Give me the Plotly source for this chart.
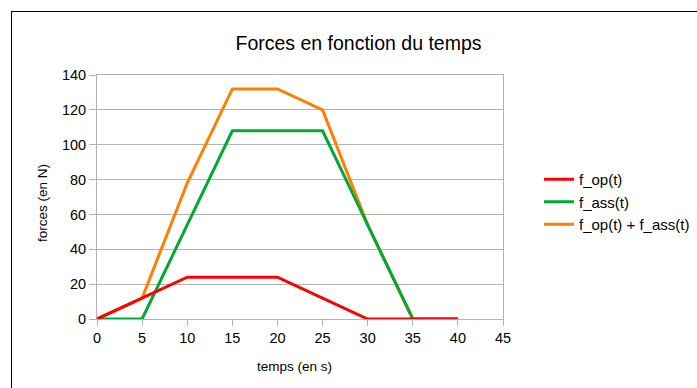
import plotly.graph_objects as go

t = [0, 5, 10, 15, 20, 25, 30, 35, 40]
f_op = [0, 12, 24, 24, 24, 12, 0, 0, 0]
f_ass = [0, 0, 54, 108, 108, 108, 54, 0, 0]
f_sum = [0, 12, 78, 132, 132, 120, 54, 0, 0]

x_ticks = [0, 5, 10, 15, 20, 25, 30, 35, 40, 45]
y_ticks = [0, 20, 40, 60, 80, 100, 120, 140]

W, H = 697, 388
L, R, T, B = 97, 503, 75, 319

FONT = "Liberation Sans, Arial, sans-serif"

fig = go.Figure()
# draw order: orange under green under red; legend order red, green, orange
fig.add_trace(go.Scatter(x=t, y=f_sum, mode="lines", name="f_op(t) + f_ass(t)",
                         line=dict(color="#ff8000", width=3), legendrank=3))
fig.add_trace(go.Scatter(x=t, y=f_ass, mode="lines", name="f_ass(t)",
                         line=dict(color="#00a933", width=3), legendrank=2))
fig.add_trace(go.Scatter(x=t, y=f_op, mode="lines", name="f_op(t)",
                         line=dict(color="#ff0000", width=3), legendrank=1))

def px_x(p):
    return (p - L) / (R - L)

def px_y(p):
    return (B - p) / (B - T)

fig.update_layout(
    width=W, height=H,
    margin=dict(l=L, r=W - R, t=T, b=H - B, pad=0, autoexpand=False),
    paper_bgcolor="white", plot_bgcolor="white",
    font=dict(family=FONT, color="black", size=14),
    title=dict(text="Forces en fonction du temps", x=358.5 / W, xanchor="center",
               y=1 - 43 / H, yanchor="middle", yref="container",
               font=dict(size=19.5, family=FONT, color="black")),
    showlegend=True,
    legend=dict(x=px_x(539), xanchor="left", y=px_y(202), yanchor="middle",
                font=dict(size=15, family=FONT, color="black"),
                bgcolor="rgba(0,0,0,0)", traceorder="normal", tracegroupgap=0),
    xaxis=dict(range=[0, 45], tickvals=x_ticks, ticktext=[str(v) for v in x_ticks],
               showgrid=False, showline=True, linecolor="#b3b3b3", linewidth=1,
               mirror=True, ticks="outside", ticklen=6, tickcolor="#b3b3b3",
               tickfont=dict(size=14.5, family=FONT, color="black"), zeroline=False),
    yaxis=dict(range=[0, 140], tickvals=y_ticks, ticktext=[str(v) for v in y_ticks],
               showgrid=True, gridcolor="#b3b3b3", gridwidth=1,
               showline=True, linecolor="#b3b3b3", linewidth=1,
               mirror=True, ticks="outside", ticklen=7, tickcolor="#b3b3b3",
               tickfont=dict(size=14.5, family=FONT, color="black"), zeroline=False),
    annotations=[
        dict(text="temps (en s)", xref="paper", yref="paper", x=px_x(294.5), y=px_y(366),
             xanchor="center", yanchor="middle", showarrow=False,
             font=dict(size=13.5, family=FONT, color="black")),
        dict(text="forces (en N)", xref="paper", yref="paper", x=px_x(42), y=px_y(203),
             xanchor="center", yanchor="middle", showarrow=False, textangle=-90,
             font=dict(size=13.5, family=FONT, color="black")),
    ],
    shapes=[
        dict(type="line", xref="paper", yref="paper", x0=px_x(11), x1=px_x(700),
             y0=px_y(11.5), y1=px_y(11.5), line=dict(color="black", width=1)),
        dict(type="line", xref="paper", yref="paper", x0=px_x(11.5), x1=px_x(11.5),
             y0=px_y(11), y1=px_y(400), line=dict(color="black", width=1)),
    ],
)

fig.write_html("out.html")
